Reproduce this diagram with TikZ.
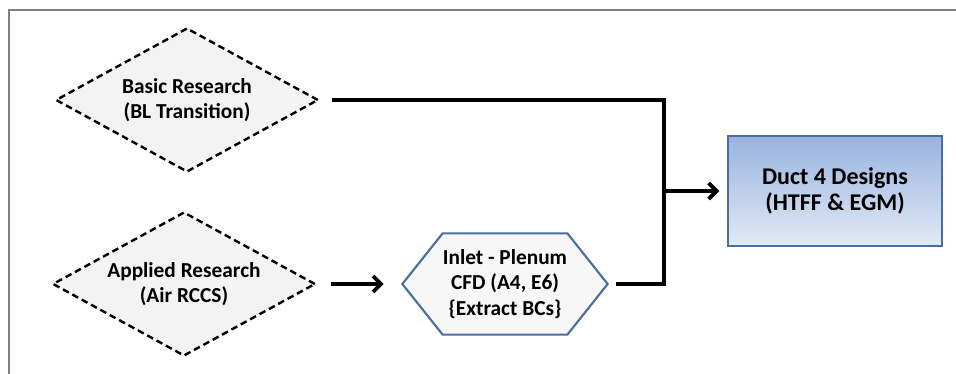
\documentclass[tikz,border=0pt]{standalone}
\usepackage{fontspec}
\setmainfont{Carlito}
\usetikzlibrary{shapes.geometric,shapes.symbols,arrows.meta}

\definecolor{boxtop}{HTML}{98B3DF}
\definecolor{boxbot}{HTML}{E2EAF6}
\definecolor{boxline}{HTML}{4A6EA3}
\definecolor{paper}{HTML}{F3F3F3}

\tikzset{
	label text/.style={font=\bfseries\fontsize{16}{19}\selectfont, align=center},
	research/.style={label text, draw, diamond, shape aspect=1.83,
		dash pattern=on 5pt off 3pt, line width=1.8pt, fill=paper,
		minimum width=197pt, minimum height=108pt, inner sep=0pt},
	cfdbox/.style={label text, draw=boxline, signal, signal to=west and east,
		signal pointer angle=103, line width=1.6pt, fill=paper!70!white,
		minimum width=154pt, minimum height=76pt, inner sep=0pt},
	designbox/.style={label text, font=\bfseries\fontsize{18}{19.5}\selectfont,
		draw=boxline, rectangle, line width=1.6pt,
		top color=boxtop, bottom color=boxbot,
		minimum width=160pt, minimum height=83pt},
	flow/.style={line width=2.8pt},
	flowarrow/.style={line width=2.8pt, -{Straight Barb[length=6pt,width=12pt,line width=2.8pt]}}
}

\begin{document}
\begin{tikzpicture}[x=0.75pt, y=-0.75pt]
	\useasboundingbox (0,0) rectangle (956,374);
	\draw[gray, line width=1.3pt] (9,374) -- (9,10) -- (956,10);

	\node[research] (basic) at (187,100) {Basic Research\\(BL Transition)};
	\node[research] (applied) at (184,284) {Applied Research\\(Air RCCS)};
	\node[cfdbox] (inlet) at (505,284) {Inlet - Plenum\\CFD (A4, E6)\\\{Extract BCs\}};
	\node[designbox] (duct) at (835,191) {Duct 4 Designs\\(HTFF \& EGM)};
	\coordinate (junction) at (664,191);

	\draw[flow] ([xshift=9pt]basic.east) -| (junction) |- ([xshift=5pt]inlet.east);
	\draw[flowarrow] (junction) -- ([xshift=-6pt]duct.west);
	\draw[flowarrow] ([xshift=11pt]applied.east) -- ([xshift=-13pt]inlet.west);
\end{tikzpicture}
\end{document}
